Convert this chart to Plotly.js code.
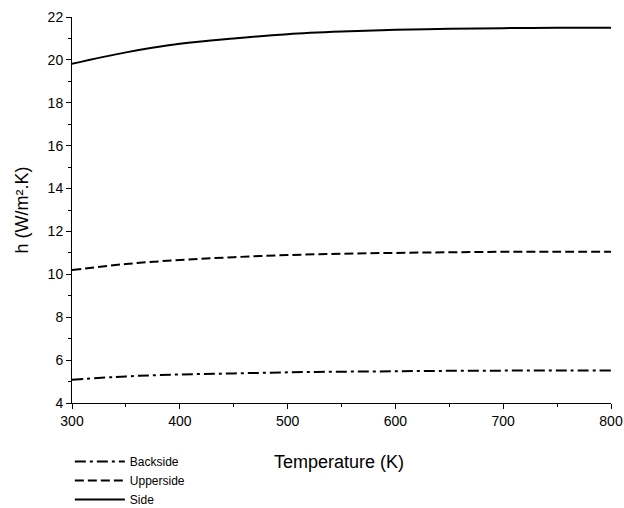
<!DOCTYPE html>
<html><head><meta charset="utf-8">
<script src="https://cdn.plot.ly/plotly-3.0.1.min.js"></script>
<style>body{margin:0}#c{width:624px;height:508px}</style>
</head><body><div id="c"></div>
<script>
const temperature = [300, 350, 400, 450, 500, 550, 600, 650, 700, 750, 800];
const backside = [5.08, 5.24, 5.33, 5.38, 5.43, 5.46, 5.48, 5.50, 5.51, 5.52, 5.52];
const upperside = [10.2, 10.48, 10.67, 10.8, 10.9, 10.96, 11.0, 11.03, 11.05, 11.05, 11.05];
const side = [19.82, 20.35, 20.75, 21.0, 21.2, 21.32, 21.4, 21.45, 21.48, 21.5, 21.5];
const xTitle = 'Temperature (K)';
const yTitle = 'h (W/m².K)';

const traces = [
  {x: temperature, y: backside, name: 'Backside', mode: 'lines', line: {color: 'black', width: 2, dash: '11px,4px,3px,4px', shape: 'spline'}},
  {x: temperature, y: upperside, name: 'Upperside', mode: 'lines', line: {color: 'black', width: 2, dash: '9px,4px', shape: 'spline'}},
  {x: temperature, y: side, name: 'Side', mode: 'lines', line: {color: 'black', width: 2, shape: 'spline'}}
];
const layout = {
  width: 624, height: 508,
  margin: {l: 72, r: 13, t: 17, b: 105},
  paper_bgcolor: 'white', plot_bgcolor: 'white',
  font: {family: 'Liberation Sans, Arial, sans-serif', size: 14, color: 'black'},
  showlegend: true,
  legend: {x: -0.004, xref: 'paper', xanchor: 'left', y: 0.12, yref: 'container', yanchor: 'top',
           font: {size: 12}, tracegroupgap: 0, itemwidth: 50, bgcolor: 'rgba(0,0,0,0)'},
  annotations: [{text: xTitle, xref: 'paper', yref: 'paper', x: 0.495, y: -0.153, xanchor: 'center', yanchor: 'middle',
                 showarrow: false, font: {size: 18}}],
  xaxis: {
    range: [300, 800], tickvals: [300, 400, 500, 600, 700, 800], showgrid: false, zeroline: false,
    showline: true, linecolor: 'black', linewidth: 1, ticks: 'outside', ticklen: 5, tickcolor: 'black',
    tickfont: {size: 14},
    minor: {dtick: 50, ticks: 'outside', ticklen: 3, tickcolor: 'black', showgrid: false}
  },
  yaxis: {
    range: [4, 22], dtick: 2, showgrid: false, zeroline: false,
    showline: true, linecolor: 'black', linewidth: 1, ticks: 'outside', ticklen: 5, tickcolor: 'black',
    tickfont: {size: 14},
    minor: {dtick: 1, ticks: 'outside', ticklen: 3, tickcolor: 'black', showgrid: false},
    title: {text: yTitle, font: {size: 18}, standoff: 14}
  }
};
Plotly.newPlot('c', traces, layout, {staticPlot: true});
</script></body></html>
